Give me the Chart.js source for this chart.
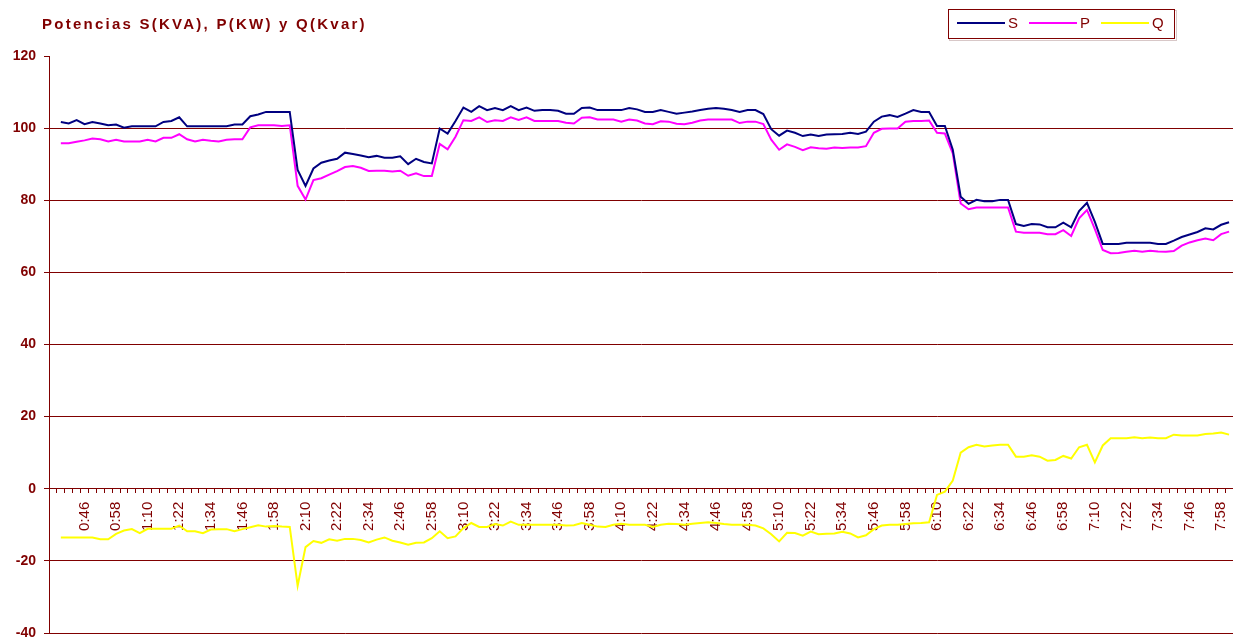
<!DOCTYPE html>
<html><head><meta charset="utf-8">
<script src="https://cdn.jsdelivr.net/npm/chart.js@4/dist/chart.umd.min.js"></script>
<style>html,body{margin:0;padding:0;background:#fff;overflow:hidden}#wrap{position:relative;width:1233px;height:637px}</style>
</head><body><div id="wrap"><canvas id="c"></canvas></div>
<script>
const TITLE = 'Potencias S(KVA), P(KW) y Q(Kvar)';
const SERIES_NAMES = ['S', 'P', 'Q'];
const SERIES_COLORS = ['#000080', '#FF00FF', '#FFFF00'];

// categories: one every 3 minutes, from 0:34 to 8:01
const categories = [];
for (let m = 34; m <= 481; m += 3) {
  categories.push(Math.floor(m / 60) + ':' + String(m % 60).padStart(2, '0'));
}
const tickLabels = ['0:46','0:58','1:10','1:22','1:34','1:46','1:58','2:10','2:22','2:34','2:46','2:58',
  '3:10','3:22','3:34','3:46','3:58','4:10','4:22','4:34','4:46','4:58','5:10','5:22','5:34','5:46','5:58',
  '6:10','6:22','6:34','6:46','6:58','7:10','7:22','7:34','7:46','7:58'];

const S = [null,
 101.7,101.3,102.2,101.1,101.7,101.3,100.8,101.0,100.1,100.5,
 100.5,100.5,100.5,101.7,102.0,103.0,100.5,100.5,100.5,100.5,
 100.5,100.5,101.0,101.0,103.3,103.8,104.5,104.5,104.5,104.5,
 88.4,84.0,88.8,90.4,91.0,91.5,93.2,92.8,92.4,91.9,
 92.3,91.8,91.8,92.2,90.0,91.5,90.6,90.2,99.9,98.5,
 102.0,105.7,104.5,106.1,105.0,105.6,105.0,106.1,105.0,105.7,
 104.8,105.0,105.0,104.8,104.0,104.0,105.6,105.7,105.0,105.0,
 105.0,105.0,105.6,105.2,104.5,104.5,105.0,104.5,104.0,104.3,
 104.6,105.0,105.4,105.6,105.4,105.0,104.5,105.0,105.0,103.9,
 99.7,97.9,99.3,98.7,97.8,98.2,97.8,98.2,98.3,98.4,
 98.7,98.4,99.0,101.8,103.2,103.6,103.1,104.0,105.0,104.5,
 104.5,100.6,100.6,94.0,81.0,79.0,80.1,79.7,79.7,80.1,
 80.1,73.4,72.9,73.4,73.3,72.5,72.5,73.8,72.5,77.0,
 79.3,74.0,67.9,67.9,67.9,68.2,68.2,68.2,68.2,67.9,
 67.9,68.8,69.8,70.5,71.2,72.2,71.9,73.2,73.9];

const P = [null,
 95.8,95.8,96.2,96.6,97.1,96.9,96.3,96.8,96.3,96.3,
 96.3,96.8,96.3,97.3,97.3,98.3,96.9,96.3,96.8,96.5,
 96.3,96.8,96.9,96.9,100.2,100.8,100.8,100.8,100.6,100.8,
 84.0,80.2,85.6,86.1,87.1,88.1,89.2,89.5,89.0,88.1,
 88.2,88.2,88.0,88.2,86.8,87.5,86.7,86.7,95.6,94.1,
 97.6,102.2,102.0,103.0,101.7,102.2,102.0,103.0,102.3,103.0,
 102.0,102.0,102.0,102.0,101.5,101.3,102.9,103.0,102.4,102.4,
 102.4,101.8,102.4,102.1,101.3,101.1,101.9,101.8,101.2,101.1,
 101.5,102.1,102.4,102.4,102.4,102.4,101.4,101.8,101.8,101.1,
 96.8,94.0,95.5,94.8,93.9,94.7,94.4,94.3,94.6,94.5,
 94.6,94.6,95.0,98.7,99.8,99.9,99.9,101.8,102.0,102.0,
 102.1,98.7,98.5,93.0,79.1,77.5,78.0,78.0,78.0,78.0,
 78.0,71.3,71.0,71.0,71.0,70.6,70.6,71.7,70.1,75.0,
 77.3,72.0,66.2,65.3,65.4,65.7,66.0,65.7,66.0,65.8,
 65.7,65.9,67.4,68.3,68.9,69.4,68.9,70.6,71.3];

const Q = [null,
 -13.5,-13.5,-13.5,-13.5,-13.5,-14.0,-14.0,-12.5,-11.6,-11.2,
 -12.3,-11.1,-11.1,-11.1,-11.1,-10.2,-11.8,-11.8,-12.3,-11.3,
 -11.2,-11.2,-11.8,-11.2,-10.7,-10.1,-10.5,-10.3,-10.5,-10.6,
 -26.9,-16.2,-14.5,-15.0,-14.0,-14.4,-13.9,-13.9,-14.2,-14.9,
 -14.1,-13.5,-14.4,-14.9,-15.5,-15.0,-14.9,-13.7,-11.8,-13.7,
 -13.2,-10.9,-9.5,-10.6,-10.6,-9.8,-10.2,-9.1,-10.0,-10.0,
 -10.0,-10.0,-10.0,-10.0,-10.2,-10.1,-9.5,-10.0,-10.5,-10.6,
 -10.0,-9.7,-10.0,-10.0,-10.0,-10.6,-10.0,-9.7,-9.8,-10.0,
 -9.7,-9.5,-9.3,-9.5,-9.8,-10.0,-10.0,-10.0,-10.2,-11.0,
 -12.6,-14.6,-12.2,-12.3,-13.0,-11.9,-12.6,-12.5,-12.4,-11.9,
 -12.4,-13.5,-12.9,-11.2,-10.2,-10.0,-10.0,-9.8,-9.6,-9.5,
 -9.3,-1.7,-0.8,2.3,10.0,11.5,12.2,11.7,12.0,12.2,
 12.2,8.9,8.9,9.3,8.9,7.8,8.0,9.1,8.4,11.5,
 12.2,7.3,12.0,14.0,14.0,14.0,14.3,14.0,14.2,14.0,
 14.0,15.0,14.8,14.8,14.8,15.2,15.3,15.6,15.0];

const Y_MIN = -40, Y_MAX = 120, Y_STEP = 20;
const DARK_RED = '#800000';
const FONT = '"Liberation Sans", Arial, sans-serif';

const overlayPlugin = {
  id: 'overlay',
  afterDraw(chart) {
    const ctx = chart.ctx;
    ctx.save();
    ctx.fillStyle = DARK_RED;
    ctx.font = 'bold 15px ' + FONT;
    ctx.textBaseline = 'alphabetic';
    ctx.textAlign = 'left';
    ctx.letterSpacing = '2.25px';
    ctx.fillText(TITLE, 42, 29);
    ctx.letterSpacing = '0px';
    // legend box with faint shadow
    ctx.strokeStyle = '#d8c8c8';
    ctx.lineWidth = 1;
    ctx.strokeRect(949.5, 10.5, 227, 30);
    ctx.fillStyle = '#fff';
    ctx.fillRect(948, 9, 227, 30);
    ctx.strokeStyle = DARK_RED;
    ctx.strokeRect(948.5, 9.5, 226, 29);
    const itemX = [957, 1029, 1101];
    ctx.font = '15px ' + FONT;
    chart.data.datasets.forEach((ds, i) => {
      const x = itemX[i];
      ctx.strokeStyle = ds.borderColor;
      ctx.lineWidth = 2;
      ctx.beginPath();
      ctx.moveTo(x, 23);
      ctx.lineTo(x + 48, 23);
      ctx.stroke();
      ctx.fillStyle = DARK_RED;
      ctx.fillText(ds.label, x + 51, 28);
    });
    ctx.restore();
  }
};

const seriesData = [S, P, Q];
new Chart(document.getElementById('c'), {
  type: 'line',
  data: {
    labels: categories,
    datasets: SERIES_NAMES.map((name, i) => ({
      label: name,
      data: seriesData[i],
      borderColor: SERIES_COLORS[i],
      backgroundColor: SERIES_COLORS[i],
      borderWidth: 2,
      pointRadius: 0,
      tension: 0,
      fill: false,
      spanGaps: false
    }))
  },
  options: {
    responsive: true,
    maintainAspectRatio: false,
    animation: false,
    layout: { padding: { left: 0, right: 0, top: 56, bottom: 4 } },
    plugins: { legend: { display: false }, title: { display: false }, tooltip: { enabled: false } },
    scales: {
      x: {
        type: 'category',
        position: { y: 0 },
        offset: true,
        grid: { display: true, drawOnChartArea: false, drawTicks: true, tickLength: 4, color: DARK_RED, offset: true },
        border: { display: true, color: DARK_RED, width: 1 },
        ticks: {
          autoSkip: false, minRotation: 90, maxRotation: 90, padding: 9, color: DARK_RED,
          font: { family: FONT, size: 15 },
          callback: (v, i) => tickLabels.includes(categories[i]) ? categories[i] : ''
        },
        afterFit: s => { s.paddingLeft = 0; s.paddingRight = 0; s.paddingTop = 0; s.paddingBottom = 0; }
      },
      y: {
        min: Y_MIN, max: Y_MAX,
        ticks: { stepSize: Y_STEP, color: DARK_RED, padding: 8, font: { family: FONT, size: 14, weight: 'bold' } },
        grid: {
          color: c => (c.tick && c.tick.value === Y_MAX) ? 'rgba(0,0,0,0)' : DARK_RED,
          tickColor: DARK_RED, tickLength: 5, lineWidth: 1
        },
        border: { display: true, color: DARK_RED, width: 1 },
        afterFit: s => { s.width = 49; s.paddingTop = 0; s.paddingBottom = 0; }
      }
    }
  },
  plugins: [overlayPlugin]
});
</script>
</body></html>
